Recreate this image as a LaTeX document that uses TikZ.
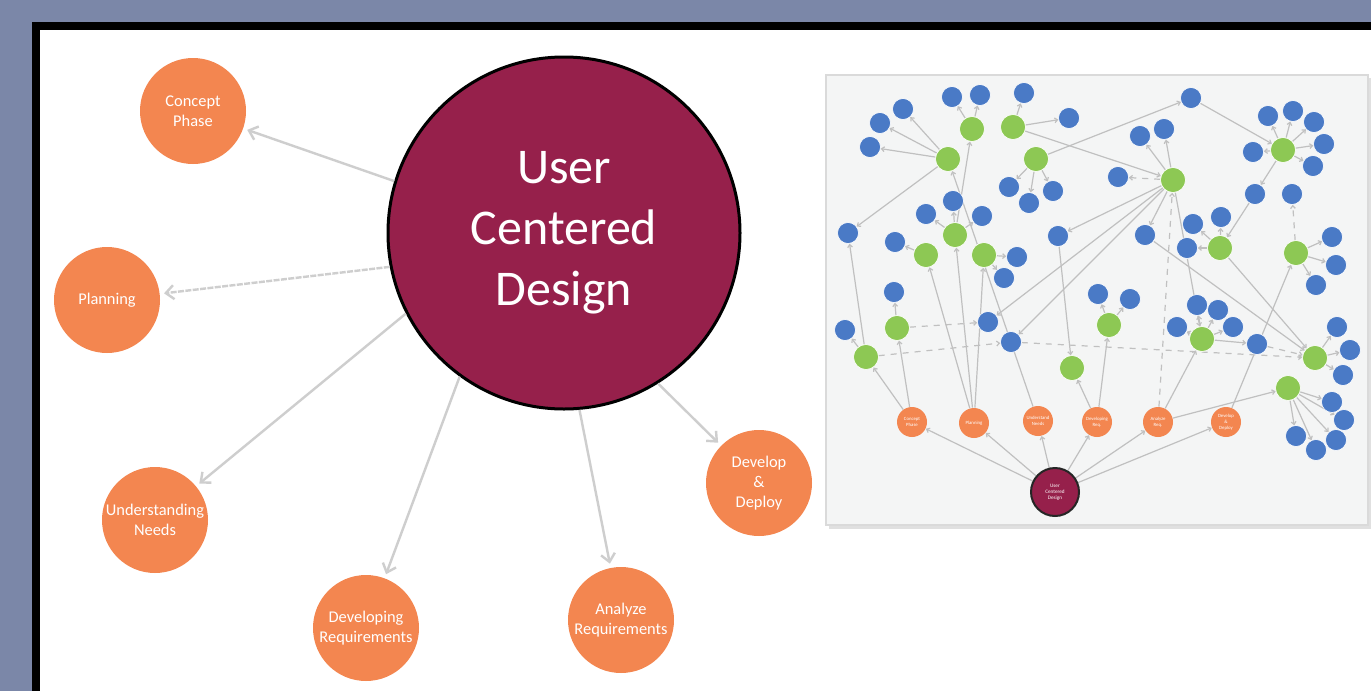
\documentclass[tikz,border=0pt]{standalone}
\usepackage{fontspec}
\setmainfont{Carlito}
\usetikzlibrary{arrows.meta,backgrounds}
\definecolor{slate}{RGB}{123,135,168}
\definecolor{ucdred}{RGB}{150,32,75}
\definecolor{phaseorange}{RGB}{243,134,80}
\definecolor{leafblue}{RGB}{74,122,198}
\definecolor{midgreen}{RGB}{141,200,84}
\definecolor{linkgray}{RGB}{206,206,206}
\definecolor{tiegray}{RGB}{192,192,192}
\definecolor{panelgray}{RGB}{244,245,245}
\definecolor{panelborder}{RGB}{218,218,218}
\tikzset{
    hub/.style = {
        circle,
        draw = black,
        line width = 1.5pt,
        fill = ucdred,
        text = white,
        minimum size = 176pt,
        align = center,
        font = \fontsize{25}{30.5}\selectfont,
        },
    phase/.style = {
        circle,
        fill = phaseorange,
        text = white,
        minimum size = 53pt,
        inner sep = -4pt,
        align = center,
        font = \fontsize{8.2}{10}\selectfont,
        },
    spoke/.style = {
        draw = linkgray,
        line width = 1.2pt,
        -{Straight Barb[length=4pt, width=7pt]},
        shorten > = 2pt,
        },
    root/.style = {
        circle,
        draw = black!85,
        line width = 1pt,
        fill = ucdred,
        text = white,
        minimum size = 24pt,
        inner sep = 0pt,
        align = center,
        font = \fontsize{2.6}{3.1}\selectfont,
        },
    stage/.style = {
        circle,
        fill = phaseorange,
        text = white,
        minimum size = 15pt,
        inner sep = 0pt,
        align = center,
        font = \fontsize{2.4}{2.9}\selectfont,
        },
    topic/.style = {
        circle,
        fill = midgreen,
        draw = white,
        line width = 0.3pt,
        minimum size = 12.5pt,
        inner sep = 0pt,
        },
    leaf/.style = {
        circle,
        fill = leafblue,
        draw = white,
        line width = 0.3pt,
        minimum size = 10.5pt,
        inner sep = 0pt,
        },
    tie/.style = {
        draw = tiegray,
        line width = 0.6pt,
        -{Straight Barb[length=1.4pt, width=2.4pt]},
        },
}

\begin{document}
\begin{tikzpicture}[x=0.5pt, y=-0.5pt]
    \useasboundingbox (0,0) rectangle (1371,691);
    \begin{scope}[on background layer]
        \fill[slate] (0,0) rectangle (1371,691);
        \fill[black] (32,22) rectangle (1371,691);
        \fill[white] (40,30) rectangle (1371,691);
        \fill[black!12] (829,78) rectangle (1371,529);
        \filldraw[fill=panelgray, draw=panelborder, line width=1pt] (826,75) rectangle (1368,525);
    \end{scope}

    % left: the phases around the hub
    \node [hub] (ucd) at (564,233) {User\\Centered\\Design};
    \node [phase] (concept) at (193,111) {Concept\\Phase};
    \node [phase] (planning) at (107,300) {Planning};
    \node [phase] (needs) at (155,520) {Understanding\\Needs};
    \node [phase] (devreq) at (366,628) {Developing\\Requirements};
    \node [phase] (anareq) at (621,620) {Analyze\\Requirements};
    \node [phase] (deploy) at (759,483) {Develop\\\&\\Deploy};

    \draw[spoke] (ucd.163) -- (concept);
    \draw[spoke, dash pattern=on 3pt off 0.7pt] (ucd.191) -- (planning);
    \draw[spoke] (ucd.207) -- (needs);
    \draw[spoke] (ucd.234) -- (devreq);
    \draw[spoke] (ucd.275) -- (anareq);
    \draw[spoke] (ucd.302) -- (deploy);

    % right: the full graph
    \node [root] (tucd) at (1055,492) {User\\Centered\\Design};
    \node [stage] (to1) at (912,422) {Concept\\Phase};
    \node [stage] (to2) at (974,423) {Planning};
    \node [stage] (to3) at (1038,421) {Understand\\Needs};
    \node [stage] (to4) at (1097,422) {Developing\\Req.};
    \node [stage] (to5) at (1158,422) {Analyze\\Req.};
    \node [stage] (to6) at (1226,422) {Develop\\\&\\Deploy};

    \node [topic] (ga) at (972,129) {};
    \node [topic] (gb) at (1013,127) {};
    \node [topic] (gc) at (948,159) {};
    \node [topic] (gd) at (1036,159) {};
    \node [topic] (ge) at (955,235) {};
    \node [topic] (gf) at (926,255) {};
    \node [topic] (gg) at (984,255) {};
    \node [topic] (gh) at (897,328) {};
    \node [topic] (gi) at (866,357) {};
    \node [topic] (gj) at (1072,368) {};
    \node [topic] (gk) at (1109,325) {};
    \node [topic] (gl) at (1202,339) {};
    \node [topic] (gm) at (1173,180) {};
    \node [topic] (gn) at (1283,150) {};
    \node [topic] (go) at (1220,248) {};
    \node [topic] (gp) at (1296,253) {};
    \node [topic] (gq) at (1315,358) {};
    \node [topic] (gr) at (1288,388) {};

    \node [leaf] (ba) at (952,97) {};
    \node [leaf] (bb) at (980,95) {};
    \node [leaf] (bc) at (1024,93) {};
    \node [leaf] (bd) at (903,109) {};
    \node [leaf] (be) at (880,123) {};
    \node [leaf] (bf) at (870,147) {};
    \node [leaf] (bg) at (1069,118) {};
    \node [leaf] (bh) at (1009,187) {};
    \node [leaf] (bi) at (1029,203) {};
    \node [leaf] (bj) at (1053,191) {};
    \node [leaf] (bk) at (953,201) {};
    \node [leaf] (bl) at (926,214) {};
    \node [leaf] (bm) at (982,216) {};
    \node [leaf] (bn) at (848,233) {};
    \node [leaf] (bo) at (895,242) {};
    \node [leaf] (bp) at (1017,257) {};
    \node [leaf] (bq) at (1004,278) {};
    \node [leaf] (br) at (1058,236) {};
    \node [leaf] (bs) at (894,292) {};
    \node [leaf] (bt) at (845,330) {};
    \node [leaf] (bu) at (988,322) {};
    \node [leaf] (bv) at (1011,342) {};
    \node [leaf] (bw) at (1098,294) {};
    \node [leaf] (bx) at (1130,299) {};
    \node [leaf] (by) at (1118,177) {};
    \node [leaf] (bz) at (1140,136) {};
    \node [leaf] (bA) at (1164,129) {};
    \node [leaf] (bB) at (1191,98) {};
    \node [leaf] (bC) at (1268,116) {};
    \node [leaf] (bD) at (1293,111) {};
    \node [leaf] (bE) at (1314,122) {};
    \node [leaf] (bF) at (1324,144) {};
    \node [leaf] (bG) at (1313,166) {};
    \node [leaf] (bH) at (1253,152) {};
    \node [leaf] (bI) at (1255,194) {};
    \node [leaf] (bJ) at (1292,194) {};
    \node [leaf] (bK) at (1193,224) {};
    \node [leaf] (bL) at (1221,217) {};
    \node [leaf] (bM) at (1187,248) {};
    \node [leaf] (bN) at (1145,235) {};
    \node [leaf] (bO) at (1332,237) {};
    \node [leaf] (bP) at (1336,265) {};
    \node [leaf] (bQ) at (1316,285) {};
    \node [leaf] (bR) at (1177,327) {};
    \node [leaf] (bS) at (1197,305) {};
    \node [leaf] (bT) at (1218,310) {};
    \node [leaf] (bU) at (1233,327) {};
    \node [leaf] (bV) at (1257,344) {};
    \node [leaf] (bW) at (1337,327) {};
    \node [leaf] (bX) at (1350,350) {};
    \node [leaf] (bY) at (1343,375) {};
    \node [leaf] (bZ) at (1332,402) {};
    \node [leaf] (ca) at (1344,420) {};
    \node [leaf] (cb) at (1336,440) {};
    \node [leaf] (cc) at (1316,450) {};
    \node [leaf] (cd) at (1296,436) {};

    \begin{scope}[on background layer]
        \draw[tie] (tucd) -- (to1);
        \draw[tie] (tucd) -- (to2);
        \draw[tie] (tucd) -- (to3);
        \draw[tie] (tucd) -- (to4);
        \draw[tie] (tucd) -- (to5);
        \draw[tie] (tucd) -- (to6);

        \draw[tie] (to1) -- (gi);
        \draw[tie] (to1) -- (gh);
        \draw[tie] (to2) -- (ge);
        \draw[tie] (to2) -- (gf);
        \draw[tie] (to2) -- (gg);
        \draw[tie] (to3) -- (gc);
        \draw[tie] (to4) -- (gj);
        \draw[tie] (to4) -- (gk);
        \draw[tie, dashed] (to5) -- (gm);
        \draw[tie] (to5) -- (gl);
        \draw[tie] (to5) -- (gr);
        \draw[tie] (to6) -- (gp);

        \draw[tie] (ga) -- (ba);
        \draw[tie] (ga) -- (bb);
        \draw[tie] (ge) -- (ga);
        \draw[tie] (gb) -- (bc);
        \draw[tie] (gb) -- (bg);
        \draw[tie] (gb) -- (gm);
        \draw[tie] (gc) -- (bd);
        \draw[tie] (gc) -- (be);
        \draw[tie] (gc) -- (bf);
        \draw[tie] (gc) -- (bn);
        \draw[tie] (gd) -- (bh);
        \draw[tie] (gd) -- (bi);
        \draw[tie] (gd) -- (bj);
        \draw[tie] (gd) -- (bB);
        \draw[tie] (ge) -- (bk);
        \draw[tie] (ge) -- (bl);
        \draw[tie] (ge) -- (bm);
        \draw[tie] (gf) -- (bo);
        \draw[tie] (gg) -- (bp);
        \draw[tie] (gg) -- (bq);
        \draw[tie] (gh) -- (bs);
        \draw[tie, dashed] (gh) -- (bu);
        \draw[tie] (gi) -- (bt);
        \draw[tie] (gi) -- (bn);
        \draw[tie, dashed] (gi) -- (bv);
        \draw[tie, dashed] (bv) -- (gq);
        \draw[tie] (br) -- (gj);
        \draw[tie] (gk) -- (bw);
        \draw[tie] (gk) -- (bx);

        \draw[tie, dashed] (gm) -- (by);
        \draw[tie] (gm) -- (bz);
        \draw[tie] (gm) -- (bA);
        \draw[tie] (gm) -- (br);
        \draw[tie] (gm) -- (bu);
        \draw[tie] (gm) -- (bv);
        \draw[tie] (gm) -- (bN);
        \draw[tie] (gm) -- (gl);
        \draw[tie] (bN) -- (gq);

        \draw[tie] (bB) -- (gn);
        \draw[tie] (gn) -- (bC);
        \draw[tie] (gn) -- (bD);
        \draw[tie] (gn) -- (bE);
        \draw[tie] (gn) -- (bF);
        \draw[tie] (gn) -- (bG);
        \draw[tie] (gn) -- (bH);
        \draw[tie] (gn) -- (bI);
        \draw[tie, dashed] (gp) -- (bJ);
        \draw[tie] (gp) -- (bO);
        \draw[tie] (gp) -- (bP);
        \draw[tie] (gp) -- (bQ);
        \draw[tie] (go) -- (bK);
        \draw[tie] (go) -- (bL);
        \draw[tie] (go) -- (bM);
        \draw[tie] (bI) -- (go);
        \draw[tie] (go) -- (gq);

        \draw[tie] (gl) -- (bR);
        \draw[tie] (gl) -- (bS);
        \draw[tie] (gl) -- (bT);
        \draw[tie] (gl) -- (bU);
        \draw[tie] (gl) -- (bV);
        \draw[tie, dashed] (bV) -- (gq);
        \draw[tie] (gq) -- (bW);
        \draw[tie] (gq) -- (bX);
        \draw[tie] (gq) -- (bY);
        \draw[tie] (gr) -- (bZ);
        \draw[tie] (gr) -- (ca);
        \draw[tie] (gr) -- (cb);
        \draw[tie] (gr) -- (cc);
        \draw[tie] (gr) -- (cd);
    \end{scope}
\end{tikzpicture}
\end{document}
